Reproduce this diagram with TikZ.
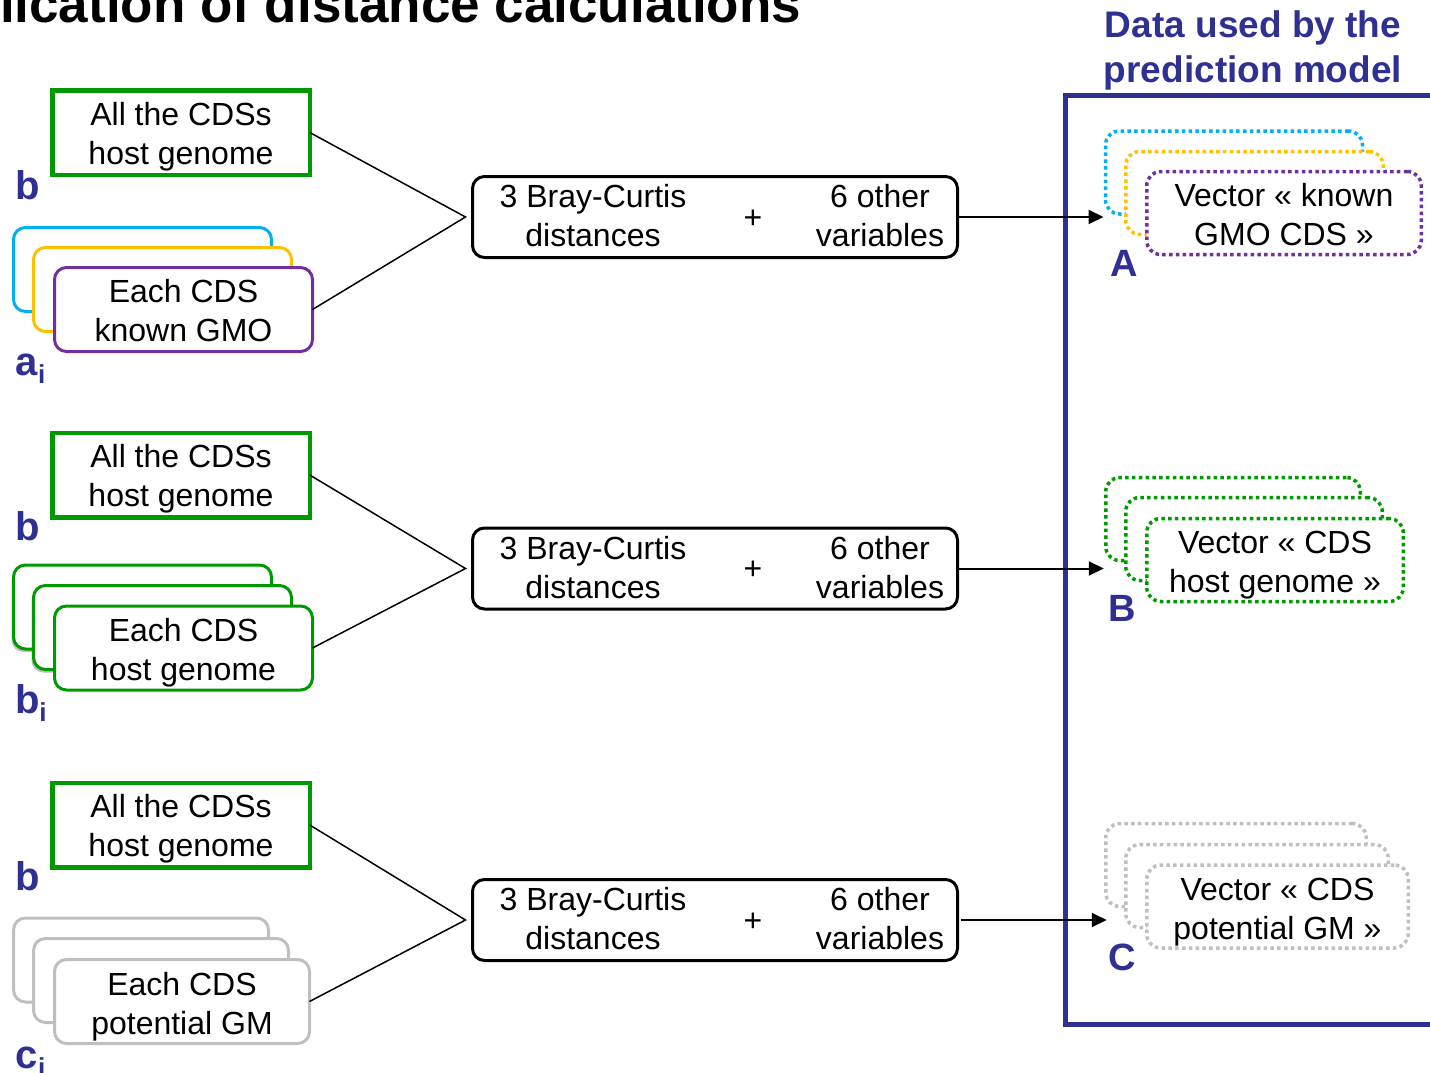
\documentclass[tikz,border=0pt]{standalone}
\usepackage{fontspec}
\setmainfont{Liberation Sans}
\usetikzlibrary{arrows.meta,calc,shadows}

\definecolor{hostgreen}{RGB}{0,153,0}
\definecolor{gmocyan}{RGB}{0,176,240}
\definecolor{gmogold}{RGB}{255,192,0}
\definecolor{gmopurple}{RGB}{112,48,160}
\definecolor{potgrey}{RGB}{191,191,191}
\definecolor{navy}{RGB}{46,49,146}

% subscript "i" of the set labels
\newcommand{\subidx}{{\fontsize{26}{26}\selectfont\raisebox{-8pt}{i}}}

\begin{document}
\begin{tikzpicture}[x=1pt,y=-1pt,
  every node/.style={inner sep=0pt,outer sep=0pt},
  txt/.style={font=\fontsize{32}{39}\selectfont,align=center},
  hostbox/.style={draw=hostgreen,line width=4.5pt,fill=white,
    minimum width=257.5pt,minimum height=84.5pt},
  card/.style={draw=#1,line width=3pt,fill=white,rounded corners=12pt,
    minimum width=258pt,minimum height=84pt},
  sumbox/.style={draw=black,line width=3pt,fill=white,rounded corners=12pt,
    minimum width=485pt,minimum height=81pt},
  vec/.style={draw=#1,line width=3.5pt,fill=white,rounded corners=14pt,
    dash pattern=on 3.5pt off 3.3pt,minimum height=83pt},
  setlabel/.style={font=\fontsize{40}{40}\selectfont\bfseries,text=navy,anchor=base west},
  caselabel/.style={font=\fontsize{38}{38}\selectfont\bfseries,text=navy},
  feed/.style={line width=1.5pt,draw=black},
  toarrow/.style={line width=2pt,-{Triangle[length=15pt,width=14pt]},shorten >=2pt},
  backshadow/.style={drop shadow={shadow xshift=-2pt,shadow yshift=-3pt,opacity=0.25,fill=black}}
]
\useasboundingbox (0,0) rectangle (1430,1073);
\clip (0,0) rectangle (1430,1073);

% heading (runs off the top edge)
\node[anchor=base west,font=\fontsize{53}{53}\selectfont\bfseries] (title) at (0,23)
  {lication of distance calculations};

% ---------------- group a_i ----------------
\node[hostbox] (hostA) at (181,132.5) {};
\node[txt] (hostAt) at ($(hostA)+(0,4)$) {All the CDSs\\host genome};
\node[setlabel] (lbA1) at (15,199) {b};
\node[card=gmocyan] (gA1) at (142.5,269.5) {};
\node[card=gmogold] (gA2) at (162.5,289.5) {};
\node[card=gmopurple] (gA3) at (183.5,309.5) {};
\node[txt] (gA3t) at ($(gA3)+(0,1.5)$) {Each CDS\\known GMO};
\node[setlabel] (lbA2) at (16,375) {a\subidx};

\node[sumbox] (mA) at (715,217) {};
\node[txt] (mAl) at (593,216) {3 Bray-Curtis\\distances};
\node[txt] (mAp) at (753,219) {+};
\node[txt] (mAr) at (880,216) {6 other\\variables};
\coordinate (jA) at ($(mA.west)+(-7,0)$);
\draw[feed] (hostA.east) -- (jA) -- (gA3.east);

% ---------------- group b_i ----------------
\node[hostbox] (hostB) at (181,475) {};
\node[txt] (hostBt) at ($(hostB)+(0,4)$) {All the CDSs\\host genome};
\node[setlabel] (lbB1) at (15,540) {b};
\node[card=hostgreen,backshadow] (hB1) at (142.5,607) {};
\node[card=hostgreen,backshadow] (hB2) at (162.5,627.5) {};
\node[card=hostgreen] (hB3) at (183.5,648) {};
\node[txt] (hB3t) at ($(hB3)+(0,5)$) {Each CDS\\host genome};
\node[setlabel] (lbB2) at (15,713) {b\subidx};

\node[sumbox] (mB) at (715,568.5) {};
\node[txt] (mBl) at (593,567.5) {3 Bray-Curtis\\distances};
\node[txt] (mBp) at (753,570.5) {+};
\node[txt] (mBr) at (880,567.5) {6 other\\variables};
\coordinate (jB) at ($(mB.west)+(-7,0)$);
\draw[feed] (hostB.east) -- (jB) -- (hB3.east);

% ---------------- group c_i ----------------
\node[hostbox] (hostC) at (181,825) {};
\node[txt] (hostCt) at ($(hostC)+(0,4)$) {All the CDSs\\host genome};
\node[setlabel] (lbC1) at (15,890) {b};
\node[card=potgrey,minimum width=255pt] (pC1) at (141,960) {};
\node[card=potgrey,minimum width=255pt] (pC2) at (161,980.5) {};
\node[card=potgrey,minimum width=255pt] (pC3) at (182,1001.5) {};
\node[txt] (pC3t) at ($(pC3)+(0,5)$) {Each CDS\\potential GM};
\node[setlabel] (lbC2) at (16,1068) {c\subidx};

\node[sumbox] (mC) at (715,920) {};
\node[txt] (mCl) at (593,919) {3 Bray-Curtis\\distances};
\node[txt] (mCp) at (753,922) {+};
\node[txt] (mCr) at (880,919) {6 other\\variables};
\coordinate (jC) at ($(mC.west)+(-7,0)$);
\draw[feed] (hostC.east) -- (jC) -- (pC3.east);

% ---------------- model input panel ----------------
\node[font=\fontsize{37}{45}\selectfont\bfseries,text=navy,align=center] (hdr) at (1253,50)
  {Data used by the\\prediction model};
\coordinate (frTR) at (1440,95);
\coordinate (frTL) at (1065,95);
\coordinate (frBL) at (1065,1024);
\coordinate (frBR) at (1440,1024);
\draw[navy,line width=5pt] (frTR) -- (frTL) -- (frBL) -- (frBR);

% vector A
\node[vec=gmocyan,minimum width=257pt] (vA1) at (1234,172.5) {};
\node[vec=gmogold,minimum width=257.5pt] (vA2) at (1254.5,193) {};
\node[vec=gmopurple,minimum width=274.5pt] (vA3) at (1284,213) {};
\node[txt] (vA3t) at ($(vA3)+(0,2)$) {Vector « known\\GMO CDS »};
\node[caselabel] (capA) at (1124,263) {A};

% vector B
\node[vec=hostgreen,minimum width=254.5pt] (vB1) at (1233,519) {};
\node[vec=hostgreen,minimum width=256.5pt] (vB2) at (1254,539) {};
\node[vec=hostgreen,minimum width=256.5pt] (vB3) at (1275,560) {};
\node[txt] (vB3t) at ($(vB3)+(0,5)$) {Vector « CDS\\host genome »};
\node[caselabel] (capB) at (1122,608) {B};

% vector C
\node[vec=potgrey,minimum width=260.5pt] (vC1) at (1236,865) {};
\node[vec=potgrey,minimum width=262.5pt] (vC2) at (1257,886) {};
\node[vec=potgrey,minimum width=261.5pt] (vC3) at (1277.5,906.5) {};
\node[txt] (vC3t) at ($(vC3)+(0,6)$) {Vector « CDS\\potential GM »};
\node[caselabel] (capC) at (1122,957) {C};

% feature vectors fed to the model
\draw[toarrow] (mA.east) -- (mA.east -| vA1.west);
\draw[toarrow] (mB.east) -- (mB.east -| vB1.west);
\draw[toarrow] ([xshift=3pt]mC.east) -- ([xshift=3pt]mC.east -| vC1.west);
\end{tikzpicture}
\end{document}
